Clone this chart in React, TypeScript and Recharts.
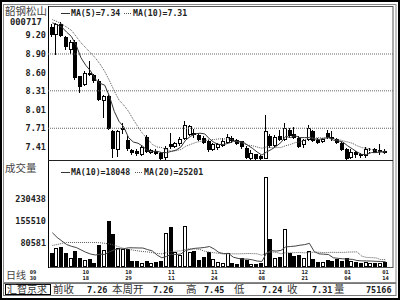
import React from "react";
import { ComposedChart, Bar, Line, XAxis, YAxis, ReferenceLine } from "recharts";

// 韶钢松山 000717, daily candles 2004-09-30 .. 2005-01-14
const dates = [
  "09/30", "10/08", "10/11", "10/12", "10/13", "10/14", "10/15", "10/18", "10/19", "10/20",
  "10/21", "10/22", "10/25", "10/26", "10/27", "10/28", "10/29", "11/01", "11/02", "11/03",
  "11/04", "11/05", "11/08", "11/09", "11/10", "11/11", "11/12", "11/15", "11/16", "11/17",
  "11/18", "11/19", "11/22", "11/23", "11/24", "11/25", "11/26", "11/29", "11/30", "12/01",
  "12/02", "12/03", "12/06", "12/07", "12/08", "12/09", "12/10", "12/13", "12/14", "12/15",
  "12/16", "12/17", "12/20", "12/21", "12/22", "12/23", "12/24", "12/27", "12/28", "12/29",
  "12/30", "12/31", "01/04", "01/05", "01/06", "01/07", "01/10", "01/11", "01/12", "01/13",
  "01/14",
];

const opens = [
  9.34, 9.2, 9.38, 9.18, 8.96, 9.1, 8.54, 8.4, 8.6, 8.57,
  8.47, 8.14, 8.22, 7.66, 7.36, 7.68, 7.52, 7.36, 7.35, 7.28,
  7.57, 7.32, 7.35, 7.32, 7.24, 7.45, 7.41, 7.45, 7.54, 7.6,
  7.64, 7.6, 7.55, 7.5, 7.36, 7.4, 7.43, 7.47, 7.56, 7.52,
  7.5, 7.4, 7.22, 7.29, 7.27, 7.22, 7.58, 7.43, 7.58, 7.52,
  7.68, 7.61, 7.56, 7.44, 7.52, 7.66, 7.52, 7.49, 7.64, 7.57,
  7.54, 7.47, 7.38, 7.24, 7.33, 7.29, 7.26, 7.34, 7.37, 7.33,
  7.35,
];

const highs = [
  9.38, 9.4, 9.42, 9.19, 9.12, 9.12, 8.55, 8.63, 8.78, 8.58,
  8.5, 8.24, 8.24, 7.68, 7.68, 7.8, 7.58, 7.38, 7.37, 7.43,
  7.6, 7.38, 7.37, 7.33, 7.42, 7.64, 7.49, 7.57, 7.82, 7.76,
  7.7, 7.62, 7.58, 7.52, 7.48, 7.47, 7.56, 7.62, 7.58, 7.54,
  7.51, 7.42, 7.36, 7.3, 7.28, 7.93, 7.62, 7.6, 7.68, 7.79,
  7.72, 7.73, 7.58, 7.54, 7.76, 7.68, 7.55, 7.56, 7.68, 7.66,
  7.56, 7.49, 7.4, 7.38, 7.35, 7.31, 7.41, 7.39, 7.39, 7.45,
  7.37,
];

const lows = [
  9.18, 8.88, 9.17, 8.96, 8.9, 8.49, 8.27, 8.38, 8.55, 8.44,
  8.15, 7.87, 7.68, 7.23, 7.25, 7.62, 7.34, 7.28, 7.26, 7.26,
  7.31, 7.3, 7.28, 7.2, 7.2, 7.38, 7.39, 7.43, 7.52, 7.58,
  7.56, 7.5, 7.46, 7.33, 7.34, 7.36, 7.41, 7.45, 7.48, 7.44,
  7.38, 7.22, 7.2, 7.2, 7.2, 7.21, 7.4, 7.41, 7.5, 7.5,
  7.56, 7.53, 7.39, 7.4, 7.5, 7.49, 7.46, 7.47, 7.53, 7.51,
  7.45, 7.34, 7.2, 7.22, 7.23, 7.24, 7.24, 7.31, 7.31, 7.28,
  7.29,
];

const closes = [
  9.2, 9.38, 9.19, 9.02, 9.1, 8.51, 8.37, 8.59, 8.57, 8.46,
  8.16, 8.22, 7.7, 7.37, 7.66, 7.71, 7.38, 7.31, 7.3, 7.41,
  7.33, 7.36, 7.3, 7.22, 7.4, 7.41, 7.47, 7.54, 7.76, 7.74,
  7.6, 7.52, 7.48, 7.36, 7.46, 7.45, 7.5, 7.57, 7.5, 7.46,
  7.41, 7.24, 7.32, 7.21, 7.21, 7.66, 7.43, 7.57, 7.52, 7.71,
  7.59, 7.56, 7.41, 7.52, 7.71, 7.51, 7.48, 7.53, 7.55, 7.53,
  7.47, 7.36, 7.22, 7.33, 7.28, 7.26, 7.37, 7.35, 7.32, 7.36,
  7.31,
];

const volumes = [
  47600, 65600, 67600, 47600, 32000, 54000, 29000, 23000, 26600, 14000,
  73000, 59000, 156000, 112000, 65600, 60000, 62000, 21000, 21000, 12000,
  21000, 12000, 16000, 20000, 114000, 134000, 51000, 40000, 140000, 51000,
  55000, 23000, 34000, 51000, 27000, 18000, 15000, 46000, 12000, 10000,
  31000, 23000, 10000, 10000, 12000, 305366, 96000, 29000, 34000, 129000,
  46000, 36000, 40000, 30000, 55000, 28000, 18000, 18000, 22000, 20000,
  26000, 20000, 32000, 20000, 16000, 15000, 16166, 14000, 13000, 15000,
  17000,
];

const ma5 = [
  9.4, 9.37, 9.33, 9.25, 9.18, 9.04, 8.84, 8.72, 8.63, 8.5,
  8.43, 8.4, 8.22, 7.98, 7.82, 7.73, 7.56, 7.49, 7.47, 7.42,
  7.35, 7.34, 7.34, 7.32, 7.32, 7.34, 7.36, 7.41, 7.52, 7.58,
  7.62, 7.63, 7.62, 7.54, 7.48, 7.45, 7.45, 7.47, 7.5, 7.5,
  7.49, 7.44, 7.39, 7.33, 7.28, 7.33, 7.37, 7.42, 7.48, 7.58,
  7.56, 7.59, 7.56, 7.56, 7.56, 7.54, 7.53, 7.55, 7.56, 7.52,
  7.51, 7.49, 7.43, 7.38, 7.33, 7.29, 7.29, 7.32, 7.32, 7.33,
  7.34,
];

const ma10 = [
  9.45, 9.42, 9.38, 9.33, 9.28, 9.18, 9.08, 9.0, 8.92, 8.84,
  8.74, 8.62, 8.47, 8.31, 8.16, 8.08, 7.98, 7.85, 7.73, 7.62,
  7.54, 7.45, 7.41, 7.4, 7.37, 7.34, 7.35, 7.37, 7.42, 7.45,
  7.48, 7.5, 7.51, 7.53, 7.53, 7.54, 7.54, 7.54, 7.52, 7.49,
  7.47, 7.44, 7.43, 7.41, 7.39, 7.41, 7.4, 7.4, 7.4, 7.43,
  7.45, 7.48, 7.49, 7.52, 7.57, 7.55, 7.56, 7.55, 7.56, 7.54,
  7.53, 7.51, 7.49, 7.47, 7.43, 7.4, 7.39, 7.37, 7.35, 7.33,
  7.31,
];

const volMa10 = [
  116000, 100000, 88000, 76000, 70000, 66000, 58000, 50000, 44000, 40700,
  43200, 42600, 51400, 57900, 61200, 61800, 65100, 64900, 64400, 64200,
  59000, 54300, 40300, 31100, 35900, 43300, 42200, 44100, 56000, 59900,
  63300, 64400, 66200, 69300, 60600, 49000, 45400, 46000, 33200, 29100,
  26700, 26700, 24300, 20200, 18700, 47400, 55500, 53800, 56000, 67900,
  69400, 70700, 73700, 75700, 80000, 52300, 44500, 43400, 42200, 31300,
  29300, 27700, 26900, 25900, 22000, 20700, 20500, 20100, 19200, 18700,
  18048,
];

const volMa20 = [
  73000, 76000, 80000, 83000, 83000, 83000, 83000, 83000, 83000, 83000,
  82000, 80000, 78000, 74000, 68000, 63000, 60000, 57000, 54500, 52400,
  51100, 48400, 45800, 44500, 48600, 52600, 53700, 54500, 60200, 62000,
  61100, 59300, 53200, 50200, 48300, 46200, 43800, 45100, 44600, 44500,
  45000, 45600, 45300, 44800, 39700, 48200, 50500, 49900, 44600, 48500,
  48100, 48700, 49000, 48000, 49400, 49900, 50000, 48600, 49100, 49600,
  49400, 49200, 50300, 50800, 51000, 36500, 32500, 31800, 30700, 25000,
  25201,
];

const priceTicks = [7.41, 7.71, 8.01, 8.31, 8.6, 8.9, 9.2];
const priceGrid = [7.71, 8.31, 8.9];
const volTicks = [80581, 155510, 230438];
const dateLabels = ["09/30", "10/18", "10/29", "11/11", "11/24", "12/08", "12/21", "01/04", "01/14"];

const mono = "'DejaVu Sans Mono', monospace";
const cjk = "'Noto Sans CJK SC', sans-serif";

const rows = dates.map((date, i) => ({
  date,
  range: [lows[i], highs[i]],
  open: opens[i],
  high: highs[i],
  low: lows[i],
  close: closes[i],
  vol: volumes[i],
  ma5: ma5[i],
  ma10: ma10[i],
  vma10: volMa10[i],
  vma20: volMa20[i],
}));

function Candle(props: any) {
  const { x, y, width, height, payload } = props;
  if (x == null || y == null || !payload) return <g />;
  const top = Math.min(y, y + height);
  const h = Math.abs(height);
  const { open, close, high, low } = payload;
  const span = high - low;
  const yOf = (v: number) => (span > 0 ? top + ((high - v) / span) * h : top);
  const c = Math.floor(x + width / 2);
  const wx = c - 0.5;
  const up = close >= open;
  const bTop = Math.round(yOf(Math.max(open, close)));
  const bBot = Math.max(Math.round(yOf(Math.min(open, close))), bTop + 1);
  const hiY = Math.round(top);
  const loY = Math.round(top + h);
  return (
    <g>
      <line x1={wx} x2={wx} y1={hiY} y2={bTop} stroke="#000" />
      <line x1={wx} x2={wx} y1={bBot} y2={loY} stroke="#000" />
      {up ? (
        <rect x={c - 1.5} y={bTop + 0.5} width={3} height={Math.max(bBot - bTop - 1, 0)} fill="#fff" stroke="#000" />
      ) : (
        <rect x={c - 2} y={bTop} width={4} height={bBot - bTop} fill="#000" />
      )}
    </g>
  );
}

function VolBar(props: any) {
  const { x, y, width, height, payload } = props;
  if (x == null || y == null || !payload) return <g />;
  const c = Math.floor(x + width / 2);
  const top = Math.round(Math.min(y, y + height));
  const bot = Math.round(Math.max(y, y + height));
  const up = payload.close >= payload.open;
  return up ? (
    <rect x={c - 1.5} y={top + 0.5} width={3} height={Math.max(bot - top - 1, 0)} fill="#fff" stroke="#000" />
  ) : (
    <rect x={c - 2} y={top} width={4} height={bot - top} fill="#000" />
  );
}

function DateTick(props: any) {
  const { x, payload } = props;
  const v: string = payload && payload.value;
  if (!v || !dateLabels.includes(v)) return <g />;
  const [m, d] = v.split("/");
  const tx = v === dateLabels[0] ? 33 : x;
  const st = { fontFamily: mono, fontSize: 5.5, fontWeight: 700, fill: "#222" };
  return (
    <g>
      <text x={tx} y={273.5} textAnchor="middle" {...st}>{m}</text>
      <text x={tx} y={280.2} textAnchor="middle" {...st}>{d}</text>
    </g>
  );
}

const axisTick = { fontFamily: mono, fontSize: 8.5, fontWeight: 700, fill: "#222" };

export default function App() {
  return (
    <div style={{ position: "absolute", left: 0, top: 0, width: 400, height: 300, background: "#fff", overflow: "hidden" }}>
      <svg width={400} height={300} style={{ position: "absolute", left: 0, top: 0 }}>
        <rect x={1} y={1} width={398} height={298} fill="#fff" stroke="#000" strokeWidth={2} />
        <rect x={3.5} y={4.5} width={392.5} height={278} fill="none" stroke="#888" />
        <rect x={48.5} y={6.5} width={344.5} height={261} fill="none" stroke="#555" />
        <line x1={48.5} x2={48.5} y1={6} y2={268} stroke="#000" />
        <line x1={48} x2={393} y1={160.5} y2={160.5} stroke="#222" />
        <rect x={3.5} y={283.5} width={392.5} height={12} fill="none" stroke="#777" />
        <rect x={5.5} y={284.5} width={45} height={10} fill="none" stroke="#000" />
      </svg>

      <div style={{ position: "absolute", left: 0, top: 0 }}>
        <ComposedChart width={400} height={161} data={rows} margin={{ top: 7, right: 7, bottom: 1, left: 0 }}>
          <XAxis dataKey="date" hide padding={{ left: 2, right: 5 }} />
          <YAxis
            width={48}
            domain={[7.2013, 9.6532]}
            allowDataOverflow
            ticks={priceTicks}
            interval={0}
            tickFormatter={(v: number) => v.toFixed(2)}
            axisLine={false}
            tickLine={false}
            tickSize={0}
            tickMargin={2}
            tick={axisTick}
          />
          {priceGrid.map((g) => (
            <ReferenceLine key={g} y={g} stroke="#666" strokeDasharray="1 1" />
          ))}
          <Bar dataKey="range" barSize={4} shape={(p: any) => <Candle {...p} />} isAnimationActive={false} />
          <Line type="linear" dataKey="ma5" stroke="#333" strokeWidth={1} dot={false} isAnimationActive={false} />
          <Line type="linear" dataKey="ma10" stroke="#555" strokeWidth={1} strokeDasharray="1 1" dot={false} isAnimationActive={false} />
        </ComposedChart>
      </div>

      <div style={{ position: "absolute", left: 0, top: 0 }}>
        <ComposedChart width={400} height={300} data={rows} margin={{ top: 160, right: 7, bottom: 17, left: 0 }}>
          <XAxis
            dataKey="date"
            interval={0}
            padding={{ left: 2, right: 5 }}
            height={16}
            axisLine={false}
            tickLine={false}
            tick={(p: any) => <DateTick {...p} />}
          />
          <YAxis
            width={48}
            domain={[0, 362000]}
            allowDataOverflow
            ticks={volTicks}
            interval={0}
            axisLine={false}
            tickLine={false}
            tickSize={0}
            tickMargin={2}
            tick={axisTick}
          />
          <Bar dataKey="vol" barSize={4} shape={(p: any) => <VolBar {...p} />} isAnimationActive={false} />
          <Line type="linear" dataKey="vma10" stroke="#444" strokeWidth={1} dot={false} isAnimationActive={false} />
          <Line type="linear" dataKey="vma20" stroke="#555" strokeWidth={1} strokeDasharray="1 1" dot={false} isAnimationActive={false} />
        </ComposedChart>
      </div>

      <svg width={400} height={300} style={{ position: "absolute", left: 0, top: 0, pointerEvents: "none" }}>
        <text x={5} y={15} fontFamily={cjk} fontSize={10.5} fill="#444">韶钢松山</text>
        <text x={10} y={25} fontFamily={mono} fontSize={8.8} fontWeight={700} fill="#222">000717</text>

        <line x1={61} x2={70} y1={13.5} y2={13.5} stroke="#333" />
        <text x={71} y={16} fontFamily={mono} fontSize={8.2} fontWeight={700} fill="#222">MA(5)=7.34</text>
        <line x1={124} x2={132} y1={13.5} y2={13.5} stroke="#555" strokeDasharray="1 1" />
        <text x={133} y={16} fontFamily={mono} fontSize={8.2} fontWeight={700} fill="#222">MA(10)=7.31</text>

        <text x={5} y={172} fontFamily={cjk} fontSize={10.5} fill="#444">成交量</text>
        <line x1={61} x2={70} y1={172.5} y2={172.5} stroke="#333" />
        <text x={71} y={175} fontFamily={mono} fontSize={8.2} fontWeight={700} fill="#222">MA(10)=18048</text>
        <line x1={135} x2={143} y1={172.5} y2={172.5} stroke="#555" strokeDasharray="1 1" />
        <text x={144} y={175} fontFamily={mono} fontSize={8.2} fontWeight={700} fill="#222">MA(20)=25201</text>

        <text x={6} y={279} fontFamily={cjk} fontSize={10} fill="#444">日线</text>

        <text x={7} y={293} fontFamily={cjk} fontSize={10} fill="#333">汇智京求</text>
        <text x={53} y={293} fontFamily={cjk} fontSize={10.5} fill="#333">前收</text>
        <text x={87} y={292.5} fontFamily={mono} fontSize={8.5} fontWeight={700} fill="#222">7.26</text>
        <text x={112} y={293} fontFamily={cjk} fontSize={10.5} fill="#333">本周开</text>
        <text x={153} y={292.5} fontFamily={mono} fontSize={8.5} fontWeight={700} fill="#222">7.26</text>
        <text x={186} y={293} fontFamily={cjk} fontSize={10.5} fill="#333">高</text>
        <text x={204} y={292.5} fontFamily={mono} fontSize={8.5} fontWeight={700} fill="#222">7.45</text>
        <text x={234} y={293} fontFamily={cjk} fontSize={10.5} fill="#333">低</text>
        <text x={262} y={292.5} fontFamily={mono} fontSize={8.5} fontWeight={700} fill="#222">7.24</text>
        <text x={287} y={293} fontFamily={cjk} fontSize={10.5} fill="#333">收</text>
        <text x={312} y={292.5} fontFamily={mono} fontSize={8.5} fontWeight={700} fill="#222">7.31</text>
        <text x={334} y={293} fontFamily={cjk} fontSize={10.5} fill="#333">量</text>
        <text x={366} y={292.5} fontFamily={mono} fontSize={8.5} fontWeight={700} fill="#222">75166</text>
      </svg>
    </div>
  );
}
